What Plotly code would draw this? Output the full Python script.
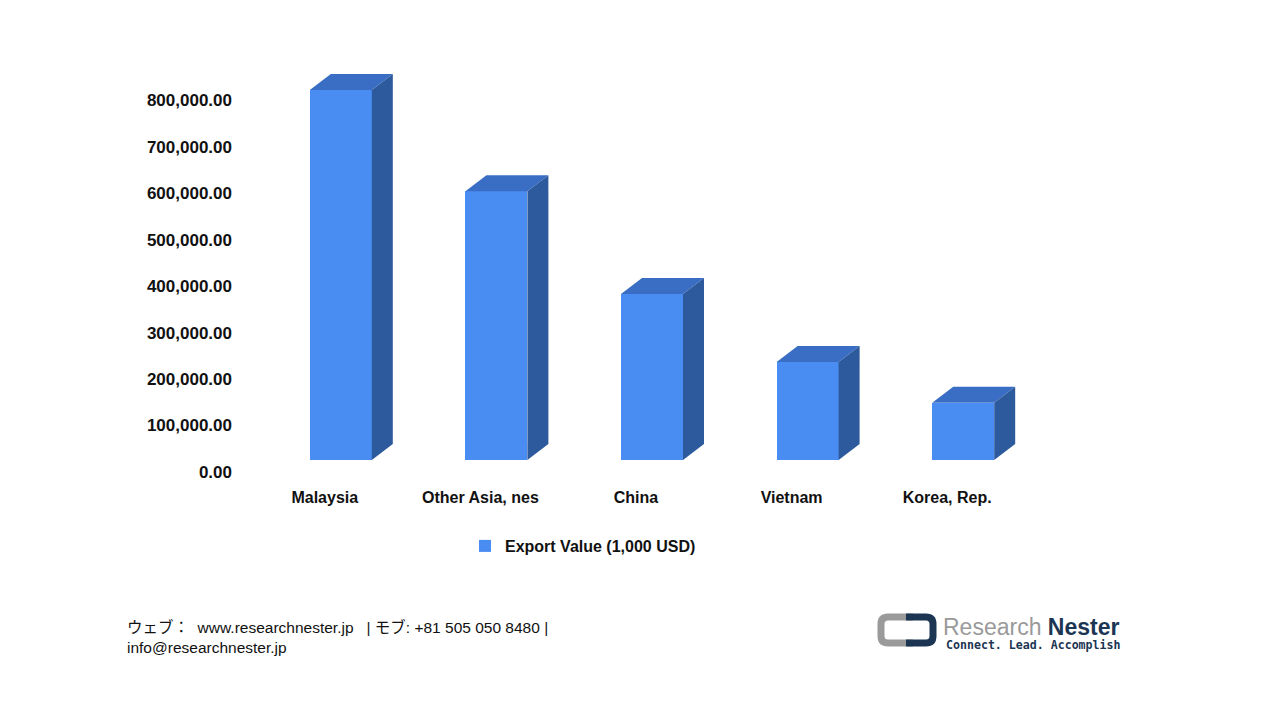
import plotly.graph_objects as go

categories = ["Malaysia", "Other Asia, nes", "China", "Vietnam", "Korea, Rep."]
export_values = [796000, 578000, 357000, 211000, 123000]
series_name = "Export Value (1,000 USD)"
y_tickvals = [0, 100000, 200000, 300000, 400000, 500000, 600000, 700000, 800000]
y_ticktext = ["{:,.2f}".format(v) for v in y_tickvals]

W, H = 1280, 720
OFF = 8  # page offset of the plot in the screenshot
L, R, T, B = 247, 255, 63, 248  # screen-space plot area edges
YMAX = 880000
px_per_unit_y = (H - T - B) / YMAX
px_per_unit_x = (W - L - R) / 5.0

# 3D styling (pixel offsets converted to axis units)
FRONT_SHIFT = 16 / px_per_unit_x
BAR_W = 62 / px_per_unit_x
DX = 21 / px_per_unit_x
DY = 16 / px_per_unit_y
BASE = 12 / px_per_unit_y

C_FRONT = "#4A8DF2"
C_TOP = "#3A6EC4"
C_SIDE = "#2D5A9C"

fig = go.Figure()
xs = [i + FRONT_SHIFT for i in range(len(categories))]
fig.add_trace(go.Bar(
    x=xs, y=export_values, base=[BASE] * len(categories), width=BAR_W,
    marker=dict(color=C_FRONT, line=dict(width=0)), name=series_name,
    showlegend=True, hoverinfo="skip"))

for xc, v in zip(xs, export_values):
    x0, x1 = xc - BAR_W / 2, xc + BAR_W / 2
    y0, y1 = BASE, BASE + v
    fig.add_trace(go.Scatter(
        x=[x0, x1, x1 + DX, x0 + DX, x0], y=[y1, y1, y1 + DY, y1 + DY, y1],
        fill="toself", fillcolor=C_TOP, mode="lines", line=dict(width=0, color=C_TOP),
        showlegend=False, hoverinfo="skip"))
    fig.add_trace(go.Scatter(
        x=[x1, x1 + DX, x1 + DX, x1, x1], y=[y0, y0 + DY, y1 + DY, y1, y0],
        fill="toself", fillcolor=C_SIDE, mode="lines", line=dict(width=0, color=C_SIDE),
        showlegend=False, hoverinfo="skip"))

def px(xp):
    return (xp - L) / (W - L - R)

def py(yp):
    return (H - B - yp) / (H - T - B)

FONT = "Liberation Sans, Noto Sans CJK JP, sans-serif"

annotations = [
    dict(x=px(125), y=py(627), xref="paper", yref="paper", xanchor="left", yanchor="middle",
         text="ウェブ：  www.researchnester.jp   | モブ: +81 505 050 8480 |", showarrow=False,
         font=dict(family=FONT, size=15.5, color="#111111")),
    dict(x=px(125), y=py(647), xref="paper", yref="paper", xanchor="left", yanchor="middle",
         text="info@researchnester.jp", showarrow=False,
         font=dict(family=FONT, size=15.5, color="#111111")),
    dict(x=px(941), y=py(627), xref="paper", yref="paper", xanchor="left", yanchor="middle",
         text="<span style='color:#9a9a9a'>Research</span> <b style='color:#1b3553'>Nester</b>",
         showarrow=False, font=dict(family="Liberation Sans", size=23)),
    dict(x=px(944), y=py(645), xref="paper", yref="paper", xanchor="left", yanchor="middle",
         text="<b>Connect. Lead. Accomplish</b>", showarrow=False,
         font=dict(family="DejaVu Sans Mono", size=11.6, color="#1b3553")),
]

def rpath(x0, y0, x1, y1, side):
    r = 7
    if side == "left":
        return (f"M {px(x1)},{py(y0)} L {px(x0+r)},{py(y0)} Q {px(x0)},{py(y0)} {px(x0)},{py(y0+r)} "
                f"L {px(x0)},{py(y1-r)} Q {px(x0)},{py(y1)} {px(x0+r)},{py(y1)} L {px(x1)},{py(y1)}")
    return (f"M {px(x0)},{py(y0)} L {px(x1-r)},{py(y0)} Q {px(x1)},{py(y0)} {px(x1)},{py(y0+r)} "
            f"L {px(x1)},{py(y1-r)} Q {px(x1)},{py(y1)} {px(x1-r)},{py(y1)} L {px(x0)},{py(y1)}")

shapes = [
    dict(type="path", xref="paper", yref="paper", path=rpath(881, 617, 913, 643, "left"),
         line=dict(color="#9a9a9a", width=7)),
    dict(type="path", xref="paper", yref="paper", path=rpath(906, 617, 933, 643, "right"),
         line=dict(color="#1b3553", width=7)),
]

fig.update_layout(
    width=W, height=H,
    margin=dict(l=L - OFF, r=R + OFF, t=T - OFF, b=B + OFF, autoexpand=False),
    paper_bgcolor="white", plot_bgcolor="white",
    font=dict(family=FONT, color="#111111"),
    xaxis=dict(range=[-0.5, 4.5], tickvals=list(range(len(categories))), ticktext=categories,
               showgrid=False, zeroline=False, showline=False, ticks="",
               tickfont=dict(size=16, family=FONT, weight="bold"), ticklabelstandoff=14,
               fixedrange=True),
    yaxis=dict(range=[0, YMAX], tickvals=y_tickvals, ticktext=y_ticktext,
               showgrid=False, zeroline=False, showline=False, ticks="",
               tickfont=dict(size=17, family=FONT, weight="bold"), ticklabelstandoff=14,
               fixedrange=True),
    showlegend=True,
    legend=dict(orientation="h", x=px(583), y=py(546), xanchor="center", yanchor="middle",
                font=dict(size=16, family=FONT, weight="bold"), itemwidth=30),
    annotations=annotations,
    shapes=shapes,
    bargap=0,
)

fig.write_html("out.html")
